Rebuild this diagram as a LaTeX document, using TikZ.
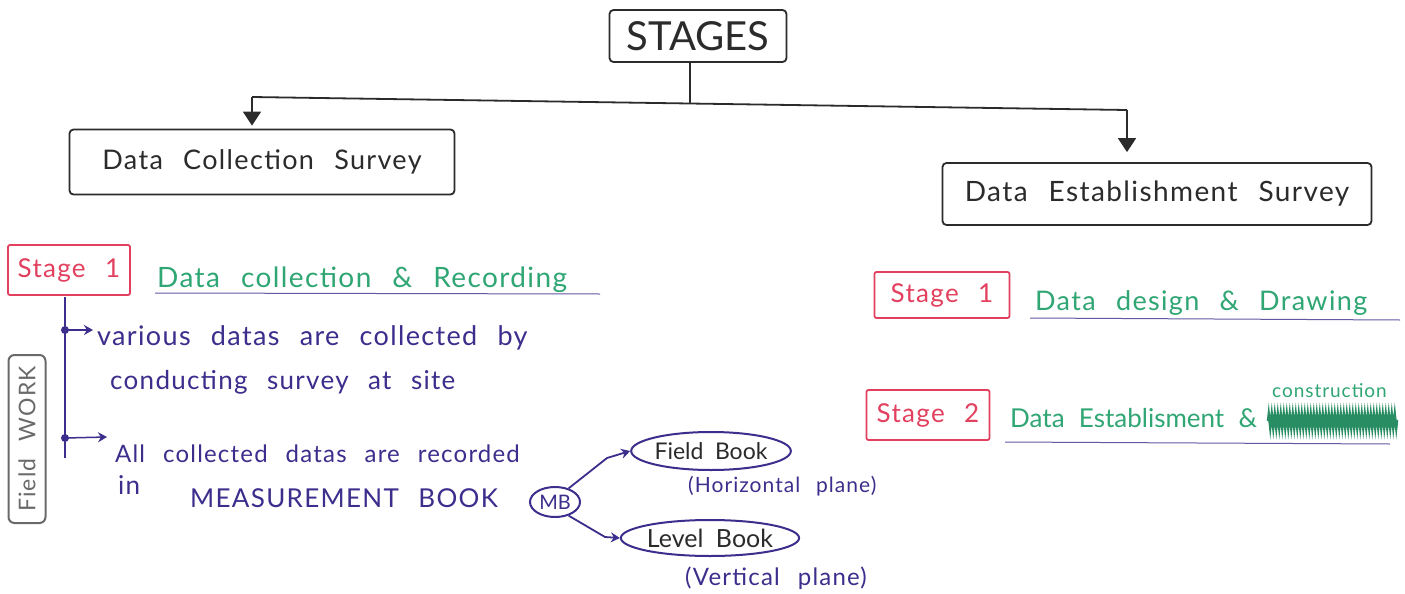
\documentclass[tikz,border=0pt]{standalone}
\usepackage{fontspec}
\setmainfont{Lato}
\usetikzlibrary{arrows.meta,shapes.geometric,decorations.pathmorphing}
\definecolor{ink}{HTML}{2B2B2B}
\definecolor{redink}{HTML}{E2405E}
\definecolor{greenink}{HTML}{2FA673}
\definecolor{blueink}{HTML}{3B2E8C}
\definecolor{grayink}{HTML}{6A6A6A}
\newcommand{\fs}[1]{\fontsize{#1}{#1}\selectfont}
\newcommand{\hand}[1]{\fontsize{#1}{#1}\selectfont\addfontfeatures{LetterSpace=5}\spaceskip=0.75em\relax}
\begin{document}
\begin{tikzpicture}[x=1pt,y=-1pt,
  box/.style={draw=ink, line width=1.8pt, rounded corners=4pt, inner sep=0pt, text=ink},
  stagebox/.style={draw=redink, line width=1.8pt, rounded corners=2pt, inner sep=0pt, text=redink, font=\hand{26}},
  greentxt/.style={text=greenink, inner sep=0pt, anchor=base west},
  bluetxt/.style={text=blueink, inner sep=0pt, anchor=base west, font=\hand{26}},
  uline/.style={draw=blueink!80, line width=1pt},
  bline/.style={draw=blueink, line width=1.8pt},
  blk/.style={draw=ink, line width=1.8pt},
  tipT/.style={-{Triangle[width=18pt,length=14pt]}},
  tipB/.style={-{Stealth[width=10pt,length=9pt]}},
  bookell/.style={ellipse, draw=blueink, line width=2pt, inner sep=0pt, text=ink}
]
\clip (0,0) rectangle (1405,594);
\fill[white] (0,0) rectangle (1405,594);

% top tree
\node[box, minimum width=177pt, minimum height=52pt, font=\fs{40}] (stages) at (698,36) {STAGES};
\node[box, minimum width=385pt, minimum height=65pt, font=\hand{27}] (dcs) at (262,162) {Data Collection Survey};
\node[box, minimum width=429pt, minimum height=62pt, font=\hand{28}] (des) at (1157,194) {Data Establishment Survey};
\coordinate (jl) at (252,97);
\coordinate (jr) at (1127,110);
\coordinate (jm) at (690,104);
\draw[blk] (stages.south -| jm) -- (jm);
\draw[blk] (jl) -- (jr);
\draw[blk, tipT, shorten >=3pt] (jl) -- (jl |- dcs.north);
\draw[blk, tipT, shorten >=10pt] (jr) -- (jr |- des.north);

% left side
\node[stagebox, minimum width=122pt, minimum height=50pt] (s1l) at (69,270) {Stage 1};
\node[greentxt, font=\hand{28}] (g1) at (157,287) {Data collection \& Recording};
\coordinate (u1a) at (155,293);
\coordinate (u1b) at (600,294);
\draw[uline] (u1a) -- (u1b);

\coordinate (vt) at (65,297);
\coordinate (vb) at (65,458);
\coordinate (d1) at (65,330);
\coordinate (d2) at (65,438);
\coordinate (a1) at (93,330);
\coordinate (a2) at (107,437);
\draw[bline] (vt) -- (vb);
\fill[blueink] (d1) circle (4pt) (d2) circle (4pt);
\draw[bline, line width=1.5pt, tipB] (d1) -- (a1);
\draw[bline, line width=1.5pt, tipB] (d2) -- (a2);

\node[bluetxt, font=\hand{27}] (b1) at (97,345) {various datas are collected by};
\node[bluetxt] (b2) at (110,389) {conducting survey at site};
\node[bluetxt, font=\hand{24}] (b3) at (115,462) {All collected datas are recorded};
\node[bluetxt] (b4) at (118,494) {in};
\node[bluetxt, font=\hand{26}] (b5) at (190,507) {MEASUREMENT BOOK};

\node[draw=grayink, line width=2pt, rounded corners=6pt, rotate=90, minimum width=168pt, minimum height=37pt, inner sep=0pt, text=grayink, font=\hand{23}] (fw) at (27,439) {Field WORK};

\node[bookell, minimum width=50pt, minimum height=30pt, text=blueink, font=\fs{20}] (mb) at (555,502) {MB};
\node[bookell, minimum width=147pt, minimum height=38pt, font={\fs{23}\spaceskip=0.5em\relax}] (fb) at (711,451) {Field Book};
\node[bookell, minimum width=170pt, minimum height=36pt, font={\fs{25}\spaceskip=0.5em\relax}] (lb) at (710,538) {Level Book};
\node[bluetxt, font=\hand{21}] (hp) at (688,492) {(Horizontal plane)};
\node[bluetxt, font=\hand{24}] (vp) at (685,585) {(Vertical plane)};
\draw[bline, tipB] (mb.45) -- (607,458) -- (fb.west);
\draw[bline, tipB] (mb.-45) -- (605,537) -- (lb.west);

% right side
\node[stagebox, minimum width=135pt, minimum height=46pt] (s1r) at (942,295) {Stage 1};
\node[greentxt, font=\hand{27}] (g2) at (1035,310) {Data design \& Drawing};
\coordinate (u2a) at (1030,318);
\coordinate (u2b) at (1400,320);
\draw[uline] (u2a) -- (u2b);

\node[stagebox, minimum width=123pt, minimum height=50pt] (s2r) at (928,415) {Stage 2};
\node[greentxt, font={\fs{26}\spaceskip=0.55em\relax}] (g3) at (1010,427) {Data Establisment \&};
\node[greentxt, font=\hand{19}] (g4) at (1272,397) {construction};
\coordinate (sca) at (1268,421);
\coordinate (scb) at (1398,421);
\draw[greenink!85!black, line width=2.4pt, decorate, decoration={zigzag, segment length=3pt, amplitude=7pt}] (sca) -- (scb);
\coordinate (u3a) at (1005,442);
\coordinate (u3b) at (1390,444);
\draw[uline] (u3a) -- (u3b);
\end{tikzpicture}
\end{document}
